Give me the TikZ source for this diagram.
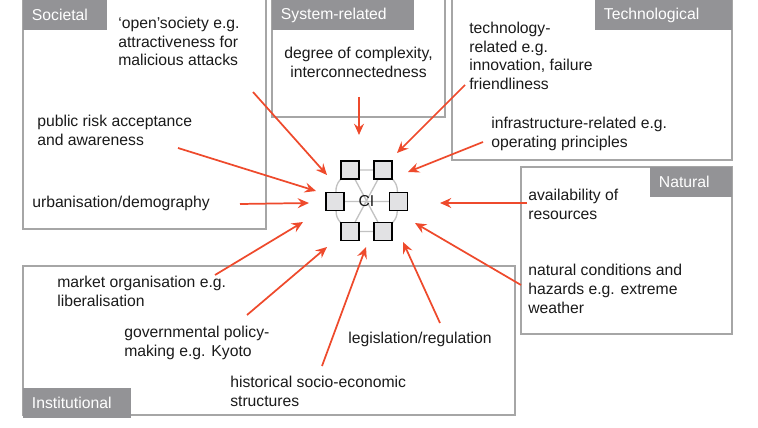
\documentclass[tikz,border=0pt]{standalone}
\usepackage{fontspec}
\setmainfont{Liberation Sans}
\usetikzlibrary{arrows.meta,backgrounds}
\definecolor{ink}{HTML}{1A1A1A}
\definecolor{tagbg}{HTML}{939396}
\definecolor{framegray}{HTML}{A6A6A6}
\definecolor{arrred}{HTML}{EE4A2C}
\definecolor{sqfill}{HTML}{E2E2E4}
\definecolor{linkgray}{HTML}{C2C2C2}
\newcommand{\txtfont}{\fontsize{11.8}{14}\selectfont}
\tikzset{frame/.style={draw=framegray,line width=1pt},tag/.style={fill=tagbg,text=white,font=\txtfont,anchor=north west,inner xsep=6.5pt,inner ysep=0pt,minimum height=22.5pt,text width=#1,align=left},txt/.style={font=\txtfont,text=ink,align=left,inner sep=0pt,anchor=north west},sq/.style={draw=black,fill=sqfill,line width=.9pt,minimum size=13.5pt,inner sep=0pt},link/.style={draw=linkgray,line width=1pt},flow/.style={-{Stealth[length=8.5pt,width=7.5pt,inset=3pt]},line width=1.3pt,draw=arrred}}

\begin{document}
\begin{tikzpicture}[x=0.75pt,y=-0.75pt]
\useasboundingbox (0,0) rectangle (758,428);
% frames of the five domains
\draw[frame] (23,-5) rectangle (266,229);
\draw[frame] (272,-5) rectangle (445,117);
\draw[frame] (452,-5) rectangle (732,160);
\draw[frame] (521,167) rectangle (732,334);
\draw[frame] (23,266) rectangle (515,415);
\node[tag=50pt] (soc) at (23,0) {Societal};
\node[tag=93.5pt] (sys) at (272,0) {System-related};
\node[tag=89.75pt] (tec) at (595,0) {Technological};
\node[tag=48.5pt] (nat) at (650,167) {Natural};
\node[tag=68pt,yshift=-1pt] (ins) at (23,386) {Institutional};
% factors
\node[txt] (open) at (118,17) {‘open’society e.g.\\attractiveness for\\malicious attacks};
\node[txt] (pub) at (37,115) {public risk acceptance\\and awareness};
\node[txt] (urb) at (32,196) {urbanisation/demography};
\node[txt,align=center,anchor=north] (deg) at (358.5,47) {degree of complexity,\\interconnectedness};
\node[txt] (tech) at (469,22) {technology-\\related e.g.\\innovation, failure\\friendliness};
\node[txt] (infra) at (491,117) {infrastructure-related e.g.\\operating principles};
\node[txt] (avail) at (528,189) {availability of\\resources};
\node[txt] (natc) at (528,264) {natural conditions and\\hazards e.g. extreme\\weather};
\node[txt] (market) at (57,276) {market organisation e.g.\\liberalisation};
\node[txt] (gov) at (124,326) {governmental policy-\\making e.g. Kyoto};
\node[txt] (hist) at (230,376) {historical socio-economic\\structures};
\node[txt] (legis) at (348,332) {legislation/regulation};
% CI cluster
\node[sq] (q1) at (350,170) {};\node[sq] (q2) at (383,170) {};
\node[sq] (q3) at (335,201.5) {};\node[sq] (q4) at (398.5,201.5) {};
\node[sq] (q5) at (350,231.5) {};\node[sq] (q6) at (383,231.5) {};
\node[font=\txtfont,text=ink,inner sep=0pt] (ci) at (366.5,201.5) {CI};
\begin{scope}[on background layer]
\draw[link] (q1)--(q2) (q6)--(q5) (q1)--(q6) (q2)--(q5) (q3)--(q4);
\draw[link] (q2) to[bend left=20] (q4) (q4) to[bend left=20] (q6) (q5) to[bend left=20] (q3) (q3) to[bend left=20] (q1);
\end{scope}
% arrows into CI
\coordinate (open-s) at (253,92);\coordinate (open-t) at (327,175);
\coordinate (pub-s) at (178,148);\coordinate (pub-t) at (316,191);
\coordinate (urb-s) at (240,204);\coordinate (urb-t) at (309,203);
\coordinate (deg-s) at (359,97);\coordinate (deg-t) at (359,135);
\coordinate (tech-s) at (465,85);\coordinate (tech-t) at (397,153);
\coordinate (infra-s) at (483,142);\coordinate (infra-t) at (408,172);
\coordinate (avail-s) at (527,203);\coordinate (avail-t) at (440,203);
\coordinate (natc-s) at (521,285);\coordinate (natc-t) at (415,223);
\coordinate (legis-s) at (440,323);\coordinate (legis-t) at (403,242);
\coordinate (hist-s) at (322,366);\coordinate (hist-t) at (366,247);
\coordinate (gov-s) at (247,315);\coordinate (gov-t) at (327,247);
\coordinate (market-s) at (215,275);\coordinate (market-t) at (303,222);
\draw[flow] (open-s)--(open-t);\draw[flow] (pub-s)--(pub-t);\draw[flow] (urb-s)--(urb-t);
\draw[flow] (deg-s)--(deg-t);\draw[flow] (tech-s)--(tech-t);\draw[flow] (infra-s)--(infra-t);
\draw[flow] (avail-s)--(avail-t);\draw[flow] (natc-s)--(natc-t);\draw[flow] (legis-s)--(legis-t);
\draw[flow] (hist-s)--(hist-t);\draw[flow] (gov-s)--(gov-t);\draw[flow] (market-s)--(market-t);
\end{tikzpicture}
\end{document}
